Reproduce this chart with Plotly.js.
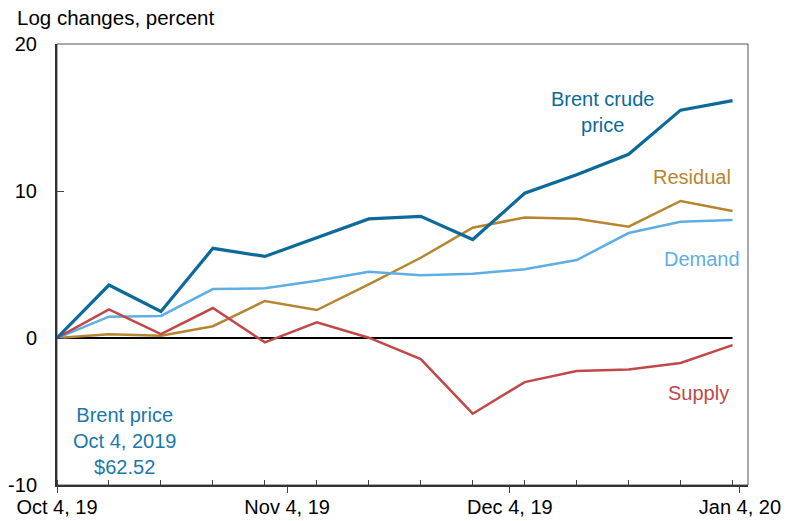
<!DOCTYPE html>
<html>
<head>
<meta charset="utf-8">
<script src="https://cdn.plot.ly/plotly-3.0.1.min.js"></script>
<style>html,body{margin:0;padding:0;background:#fff;}#chart{width:790px;height:521px;}</style>
</head>
<body>
<div id="chart"></div>
<script>
const dates = ['2019-10-04','2019-10-11','2019-10-18','2019-10-25','2019-11-01','2019-11-08','2019-11-15',
               '2019-11-22','2019-11-29','2019-12-06','2019-12-13','2019-12-20','2019-12-27','2020-01-03'];
const brent    = [0, 3.6, 1.8, 6.1, 5.55, 6.85, 8.1, 8.28, 6.7, 9.85, 11.1, 12.5, 15.5, 16.15];
const demand   = [0, 1.45, 1.5, 3.33, 3.38, 3.9, 4.5, 4.27, 4.37, 4.67, 5.3, 7.14, 7.9, 8.03];
const residual = [0, 0.25, 0.15, 0.8, 2.52, 1.9, 3.65, 5.46, 7.5, 8.2, 8.12, 7.57, 9.32, 8.64];
const supply   = [0, 1.95, 0.27, 2.04, -0.3, 1.07, 0.02, -1.43, -5.15, -3.0, -2.25, -2.15, -1.7, -0.48];

const xTickVals = ['2019-10-04','2019-11-04','2019-12-04','2020-01-04'];
const xTickText = ['Oct 4, 19','Nov 4, 19','Dec 4, 19','Jan 4, 20'];
const yTickVals = [-10, 0, 10, 20];
const yTickText = yTickVals.map(v => String(v));

const C = {brent:'#0B6A9A', demand:'#5EAEE3', residual:'#B5862F', supply:'#C0484A'};
const FONT = 'Liberation Sans, Arial, sans-serif';

const traces = [
  {x: dates, y: residual, mode:'lines', line:{color:C.residual, width:2.5}, name:'Residual'},
  {x: dates, y: demand, mode:'lines', line:{color:C.demand, width:2.5}, name:'Demand'},
  {x: dates, y: supply, mode:'lines', line:{color:C.supply, width:2.5}, name:'Supply'},
  {x: dates, y: brent, mode:'lines', line:{color:C.brent, width:3.2}, name:'Brent crude price'}
];

const layout = {
  width: 790, height: 521,
  margin: {l:57, r:42, t:44, b:36, autoexpand:false},
  paper_bgcolor:'#fff', plot_bgcolor:'#fff',
  showlegend:false,
  font:{family:FONT, size:20, color:'#000'},
  xaxis:{
    type:'date', range:['2019-10-04','2020-01-05 02:00'],
    tickmode:'array', tickvals:xTickVals, ticktext:xTickText,
    ticks:'outside', ticklen:6, tickwidth:1, tickcolor:'#444',
    ticklabelstandoff:-3,
    showline:true, linecolor:'#333', linewidth:2,
    showgrid:false, zeroline:false, automargin:false,
    tickfont:{family:FONT, size:20, color:'#000'},
    minor:{dtick:7*24*3600*1000, tick0:'2019-10-04', ticks:'inside', ticklen:5, tickwidth:1, tickcolor:'#444', showgrid:false}
  },
  yaxis:{
    range:[-10,20], tickmode:'array', tickvals:yTickVals, ticktext:yTickText,
    ticks:'inside', ticklen:7, tickwidth:1, tickcolor:'#444',
    showline:true, linecolor:'#333', linewidth:2,
    showgrid:false, zeroline:false, automargin:false,
    ticklabelstandoff:14,
    tickfont:{family:FONT, size:20, color:'#000'}
  },
  shapes:[
    {type:'rect', xref:'paper', yref:'paper', x0:0, x1:1, y0:0, y1:1, line:{color:'#555', width:1}, layer:'below'},
    {type:'line', xref:'x', yref:'y', x0:dates[0], x1:dates[dates.length-1], y0:0, y1:0, line:{color:'#000', width:2}, layer:'below'}
  ],
  annotations:[
    {text:'Log changes, percent', xref:'paper', yref:'paper', x:-0.0608, y:1.059, xanchor:'left', yanchor:'middle', showarrow:false, font:{family:FONT, size:20.5, color:'#000'}},
    {text:'Brent crude<br>price', xref:'paper', yref:'paper', x:0.789, y:0.846, xanchor:'center', yanchor:'middle', showarrow:false, font:{family:FONT, size:20, color:C.brent}},
    {text:'Residual', xref:'paper', yref:'paper', x:0.919, y:0.698, xanchor:'center', yanchor:'middle', showarrow:false, font:{family:FONT, size:20, color:C.residual}},
    {text:'Demand', xref:'paper', yref:'paper', x:0.933, y:0.512, xanchor:'center', yanchor:'middle', showarrow:false, font:{family:FONT, size:20, color:C.demand}},
    {text:'Supply', xref:'paper', yref:'paper', x:0.929, y:0.209, xanchor:'center', yanchor:'middle', showarrow:false, font:{family:FONT, size:20, color:C.supply}},
    {text:'Brent price<br>Oct 4, 2019<br>$62.52', xref:'paper', yref:'paper', x:0.097, y:0.0998, xanchor:'center', yanchor:'middle', showarrow:false, font:{family:FONT, size:20, color:'#1A78AA'}}
  ]
};

Plotly.newPlot('chart', traces, layout, {staticPlot:true, displayModeBar:false});
</script>
</body>
</html>
